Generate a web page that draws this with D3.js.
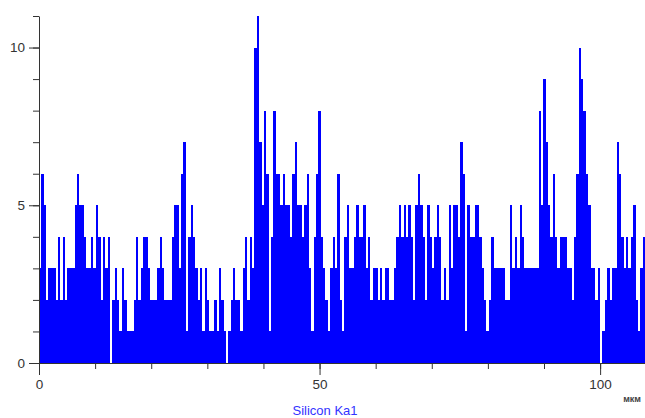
<!DOCTYPE html>
<html>
<head>
<meta charset="utf-8">
<script src="https://cdn.jsdelivr.net/npm/d3@7"></script>
<style>
  html, body { margin: 0; padding: 0; background: #fff; }
  svg { display: block; }
</style>
</head>
<body>
<div id="chart"></div>
<script>
// Silicon Ka1 line scan — counts per channel
const BIN_WIDTH = 0.4219;   // µm per channel (256 channels over ~108 µm)
const COUNTS = [
  3, 6, 5, 2, 3, 3, 3, 2, 4, 2, 4, 2, 3, 3, 3, 5, 6, 5, 5, 4,
  3, 3, 4, 3, 5, 4, 2, 4, 3, 4, 0, 2, 3, 2, 1, 3, 2, 1, 1, 1,
  2, 4, 2, 3, 4, 4, 3, 2, 2, 2, 3, 4, 3, 2, 2, 2, 4, 5, 5, 3,
  6, 7, 1, 4, 5, 4, 3, 2, 3, 1, 3, 2, 1, 1, 2, 1, 3, 2, 1, 0,
  1, 2, 3, 2, 2, 1, 3, 4, 2, 4, 3, 10, 11, 7, 5, 8, 6, 1, 4, 8,
  6, 6, 5, 6, 5, 5, 4, 6, 7, 5, 5, 4, 5, 6, 3, 1, 4, 6, 8, 4,
  3, 2, 1, 3, 4, 3, 6, 2, 1, 4, 5, 3, 3, 4, 5, 4, 4, 5, 3, 4,
  2, 3, 3, 2, 3, 2, 3, 3, 2, 2, 3, 4, 5, 4, 5, 4, 5, 4, 2, 5,
  6, 5, 4, 2, 5, 4, 3, 4, 5, 4, 2, 3, 2, 5, 3, 5, 5, 4, 7, 6,
  1, 5, 4, 4, 5, 5, 4, 3, 2, 1, 2, 4, 3, 3, 3, 3, 3, 2, 2, 5,
  3, 4, 3, 5, 4, 3, 3, 3, 3, 3, 3, 8, 5, 9, 7, 5, 4, 6, 4, 3,
  4, 4, 4, 3, 3, 2, 4, 6, 10, 9, 8, 6, 5, 3, 3, 2, 3, 0, 1, 2,
  3, 2, 3, 3, 7, 6, 4, 3, 4, 3, 4, 5, 2, 1, 3, 4,
];

const X_DOMAIN = [0, 108];
const Y_DOMAIN = [0, 11];
const X_MAJOR = [0, 50, 100];
const X_MINOR = d3.range(0, 110, 10);
const Y_MAJOR = [0, 5, 10];
const Y_MINOR = d3.range(0, 12, 1);

const X_UNIT = 'мкм';
const SERIES_LABEL = 'Silicon Ka1';

const W = 645, H = 418;
const FONT = '"Liberation Sans", Arial, sans-serif';

const svg = d3.select('#chart')
  .append('svg')
  .attr('width', W)
  .attr('height', H)
  .style('font-family', FONT);

const x = d3.scaleLinear().domain(X_DOMAIN).range([39, 645]);
const y = d3.scaleLinear().domain(Y_DOMAIN).range([363, 16]);

// step profile: one point per channel start, plus the closing edge
const pts = COUNTS.map((c, i) => ({ u: i * BIN_WIDTH, c }));
pts.push({ u: COUNTS.length * BIN_WIDTH, c: COUNTS[COUNTS.length - 1] });

const area = d3.area()
  .curve(d3.curveStepAfter)
  .x(d => x(d.u))
  .y0(y(0))
  .y1(d => y(d.c));

svg.append('path')
  .datum(pts)
  .attr('d', area)
  .attr('fill', '#0000ff')
  .attr('shape-rendering', 'crispEdges');

// Axes — minor ticks first, then major ones with labels
const axisColor = '#333';

svg.append('g')
  .attr('transform', `translate(${x(0)},0)`)
  .call(d3.axisLeft(y).tickValues(Y_MINOR).tickSize(6).tickFormat(''))
  .call(ax => ax.select('.domain').remove())
  .call(ax => ax.selectAll('line').attr('stroke', axisColor));

svg.append('g')
  .attr('transform', `translate(${x(0)},0)`)
  .call(d3.axisLeft(y).tickValues(Y_MAJOR).tickSizeInner(10).tickSizeOuter(0).tickPadding(4))
  .call(ax => ax.select('.domain').attr('stroke', axisColor))
  .call(ax => ax.selectAll('line').attr('stroke', axisColor))
  .call(ax => ax.selectAll('text')
    .attr('font-size', 13.5).attr('font-family', FONT).attr('fill', '#333'));

svg.append('g')
  .attr('transform', `translate(0,${y(0)})`)
  .call(d3.axisBottom(x).tickValues(X_MINOR).tickSize(6).tickFormat(''))
  .call(ax => ax.select('.domain').remove())
  .call(ax => ax.selectAll('line').attr('stroke', axisColor));

svg.append('g')
  .attr('transform', `translate(0,${y(0)})`)
  .call(d3.axisBottom(x).tickValues(X_MAJOR).tickSizeInner(12).tickSizeOuter(0).tickPadding(4))
  .call(ax => ax.select('.domain').attr('stroke', axisColor))
  .call(ax => ax.selectAll('line').attr('stroke', axisColor))
  .call(ax => ax.selectAll('text')
    .attr('font-size', 13.5).attr('font-family', FONT).attr('fill', '#333'));

// unit label
svg.append('text')
  .attr('x', 641).attr('y', 402)
  .attr('text-anchor', 'end')
  .attr('font-size', 9).attr('font-weight', 'bold')
  .attr('fill', '#444')
  .text(X_UNIT);

// series caption
svg.append('text')
  .attr('x', 325).attr('y', 415)
  .attr('text-anchor', 'middle')
  .attr('font-size', 13)
  .attr('fill', '#3333ff')
  .text(SERIES_LABEL);
</script>
</body>
</html>
